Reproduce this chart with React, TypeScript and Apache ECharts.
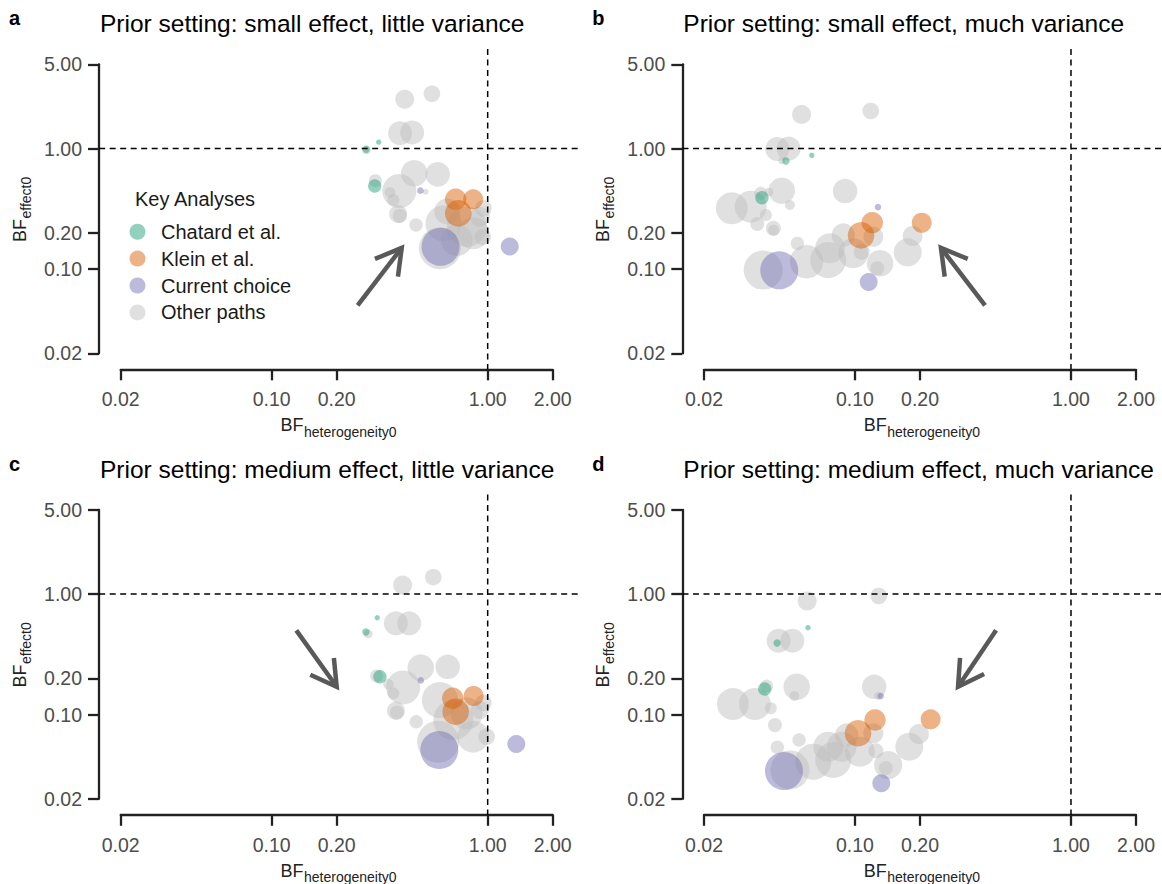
import React, { useEffect, useRef } from "react";
import * as echarts from "echarts";

// ---------------- data ----------------
const PANEL_LETTERS = ["a", "b", "c", "d"];
const PANEL_TITLES = [
  "Prior setting: small effect, little variance",
  "Prior setting: small effect, much variance",
  "Prior setting: medium effect, little variance",
  "Prior setting: medium effect, much variance",
];
const GROUP_NAMES = ["Chatard et al.", "Klein et al.", "Current choice", "Other paths"];
const X_TICKS = [0.02, 0.1, 0.2, 1, 2];
const Y_TICKS = [0.02, 0.1, 0.2, 1, 5];
const X_RANGE = [0.02, 2];
const Y_RANGE = [0.02, 5];
// plot region limits (where the reference lines end)
const PLOT_X = [0.0159, 2.62];
const PLOT_Y = [0.0147, 6.7];
const REF_VALUE = 1;

// each point: [BF heterogeneity0, BF effect0, weight]
const A_CHATARD = [[0.274, 0.986, 3.7], [0.313, 1.13, 2.7], [0.3, 0.489, 6.7]];
const A_KLEIN = [[0.711, 0.379, 10.7], [0.857, 0.379, 10], [0.731, 0.29, 13.3]];
const A_CURRENT = [[0.488, 0.447, 3.3], [0.605, 0.153, 19], [1.265, 0.154, 9]];
const A_OTHER = [
  [0.413, 2.56, 9.5], [0.552, 2.85, 8.3], [0.393, 1.34, 12], [0.447, 1.36, 12],
  [0.457, 0.623, 13.3], [0.587, 0.611, 12.3], [0.302, 0.541, 6.5], [0.274, 0.97, 4.3],
  [0.39, 0.444, 17], [0.353, 0.433, 5.3], [0.366, 0.374, 6], [0.385, 0.286, 9],
  [0.392, 0.276, 7], [0.466, 0.232, 6.7], [0.516, 0.438, 3], [0.601, 0.149, 21],
  [0.624, 0.239, 18], [0.65, 0.3, 13], [0.8, 0.224, 20], [0.857, 0.198, 16],
  [0.92, 0.272, 10], [0.955, 0.319, 8.3], [0.948, 0.185, 8.3], [0.72, 0.174, 16],
];

const B_CHATARD = [[0.0631, 0.879, 2.7], [0.0479, 0.788, 3.7], [0.0371, 0.391, 6.7]];
const B_KLEIN = [[0.1202, 0.2424, 10.7], [0.2037, 0.2424, 10], [0.1067, 0.1905, 13.3]];
const B_CURRENT = [[0.1278, 0.327, 3.3], [0.0446, 0.0976, 19], [0.1157, 0.078, 9]];
const B_OTHER = [
  [0.0566, 1.92, 9.5], [0.1183, 2.05, 8.3], [0.0437, 0.991, 12], [0.0493, 1.0, 12],
  [0.0458, 0.793, 3.5], [0.0458, 0.447, 13.3], [0.09, 0.444, 12.3], [0.0366, 0.425, 6.5],
  [0.04, 0.436, 4.3], [0.0269, 0.319, 16], [0.0329, 0.329, 16], [0.05, 0.34, 5],
  [0.0387, 0.281, 6], [0.0353, 0.2366, 7], [0.0419, 0.218, 7.5], [0.042, 0.21, 5.5],
  [0.0541, 0.1634, 6.7], [0.0376, 0.0982, 19.5], [0.0597, 0.1151, 16.7], [0.0752, 0.1189, 18],
  [0.0766, 0.149, 15], [0.0883, 0.1916, 11.7], [0.0982, 0.1352, 15], [0.1216, 0.185, 10],
  [0.1306, 0.1116, 13.3], [0.1268, 0.1014, 7], [0.1074, 0.1393, 8], [0.1754, 0.1377, 14],
  [0.1849, 0.188, 10],
];

const C_CHATARD = [[0.308, 0.636, 2.7], [0.273, 0.484, 3.7], [0.317, 0.206, 6.7]];
const C_KLEIN = [[0.689, 0.1364, 10.7], [0.861, 0.1425, 10], [0.711, 0.1055, 13.3]];
const C_CURRENT = [[0.49, 0.192, 3.3], [0.597, 0.0508, 19], [1.357, 0.0569, 9]];
const C_OTHER = [
  [0.404, 1.19, 9.5], [0.56, 1.38, 8.3], [0.376, 0.572, 12], [0.433, 0.572, 12],
  [0.49, 0.245, 13.3], [0.653, 0.249, 12.3], [0.306, 0.209, 6.5], [0.28, 0.466, 4.3],
  [0.406, 0.168, 17], [0.347, 0.179, 5.3], [0.366, 0.15, 6], [0.376, 0.1076, 9],
  [0.38, 0.104, 7], [0.467, 0.0872, 6.7], [0.59, 0.0595, 21], [0.601, 0.132, 18],
  [0.693, 0.0901, 20], [0.8, 0.102, 16], [0.857, 0.0655, 16], [0.92, 0.109, 9],
  [0.989, 0.0655, 8.3], [0.955, 0.125, 8.3],
];

const D_CHATARD = [[0.0606, 0.526, 2.7], [0.0436, 0.393, 3.7], [0.0382, 0.163, 6.7]];
const D_KLEIN = [[0.1238, 0.0901, 10.7], [0.224, 0.0913, 10], [0.1033, 0.0699, 13.3]];
const D_CURRENT = [[0.1315, 0.1425, 3.3], [0.0469, 0.034, 19], [0.1324, 0.0269, 9]];
const D_OTHER = [
  [0.0601, 0.875, 9.5], [0.1288, 0.964, 8.3], [0.0443, 0.41, 12], [0.0513, 0.41, 12],
  [0.0537, 0.17, 13.3], [0.1227, 0.17, 12.3], [0.039, 0.1725, 6.5], [0.0272, 0.1223, 16],
  [0.0344, 0.1223, 16], [0.0408, 0.1127, 6], [0.0524, 0.1425, 5], [0.0426, 0.0818, 7],
  [0.0437, 0.0535, 6.7], [0.0551, 0.0615, 6.7], [0.05, 0.0347, 19.5], [0.0641, 0.0406, 18],
  [0.0793, 0.042, 18], [0.0752, 0.0541, 15], [0.0868, 0.0541, 15], [0.0915, 0.0676, 11.7],
  [0.1054, 0.0491, 15], [0.125, 0.0501, 7.5], [0.1216, 0.0699, 10], [0.1425, 0.0381, 14],
  [0.139, 0.036, 7], [0.1784, 0.0541, 14], [0.1977, 0.0689, 10], [0.128, 0.143, 4],
];

// per panel, groups in GROUP_NAMES order
const PANEL_DATA = [
  [A_CHATARD, A_KLEIN, A_CURRENT, A_OTHER],
  [B_CHATARD, B_KLEIN, B_CURRENT, B_OTHER],
  [C_CHATARD, C_KLEIN, C_CURRENT, C_OTHER],
  [D_CHATARD, D_KLEIN, D_CURRENT, D_OTHER],
];

// arrows in data coordinates: tail -> head
const ARROW_TAILS = [[0.25, 0.05], [0.4, 0.05], [0.13, 0.5], [0.45, 0.5]];
const ARROW_HEADS = [[0.4, 0.15], [0.25, 0.15], [0.2, 0.17], [0.3, 0.17]];

// ---------------- styles / layout ----------------
const FONT = "'Liberation Sans', Arial, Helvetica, sans-serif";
const GROUP_COLORS = [
  "rgba(27,158,119,0.6)",
  "rgba(217,95,2,0.6)",
  "rgba(117,112,179,0.6)",
  "rgba(190,190,190,0.6)",
];
const DRAW_ORDER = [3, 0, 1, 2];
const COL_LEFT = [120.7, 704];
const ROW_TOP = [64.3, 509.8];
const COL_SHIFT = [0, 583.3];
const ROW_SHIFT = [0, 445.5];
const GRID_W = 432;
const GRID_H = 289;
const AXIS_COLOR = "#222";
const LABEL_COLOR = "#4d4d4d";
const BUBBLE_SCALE = 2;

const lg = Math.log10;
const PX_PER_DEC_X = GRID_W / (lg(X_RANGE[1]) - lg(X_RANGE[0]));
const PX_PER_DEC_Y = GRID_H / (lg(Y_RANGE[1]) - lg(Y_RANGE[0]));

function fmt(v: number) {
  return Number(v).toFixed(2);
}

export default function App() {
  const ref = useRef<HTMLDivElement>(null);

  useEffect(() => {
    document.body.style.margin = "0";
    const chart = echarts.init(ref.current as HTMLDivElement, null, { renderer: "svg" });

    const grids: any[] = [];
    const xAxes: any[] = [];
    const yAxes: any[] = [];
    const series: any[] = [];
    const n = PANEL_DATA.length;

    PANEL_DATA.forEach((groups, i) => {
      const col = i % 2;
      const row = Math.floor(i / 2);
      grids[i] = { left: COL_LEFT[col], top: ROW_TOP[row], width: GRID_W, height: GRID_H };
      // plot-region grid (same scale, wider extent) for the reference lines
      const rl = COL_LEFT[col] - (lg(X_RANGE[0]) - lg(PLOT_X[0])) * PX_PER_DEC_X;
      const rr = COL_LEFT[col] + GRID_W + (lg(PLOT_X[1]) - lg(X_RANGE[1])) * PX_PER_DEC_X;
      const rt = ROW_TOP[row] - (lg(PLOT_Y[1]) - lg(Y_RANGE[1])) * PX_PER_DEC_Y;
      const rb = ROW_TOP[row] + GRID_H + (lg(Y_RANGE[0]) - lg(PLOT_Y[0])) * PX_PER_DEC_Y;
      grids[n + i] = { left: rl, top: rt, width: rr - rl, height: rb - rt };

      xAxes[i] = {
        type: "log",
        logBase: 10,
        gridIndex: i,
        min: X_RANGE[0],
        max: X_RANGE[1],
        position: "bottom",
        offset: 16,
        axisLine: { show: true, onZero: false, lineStyle: { color: AXIS_COLOR, width: 2.3 } },
        axisTick: { show: true, length: 11, customValues: X_TICKS, lineStyle: { color: AXIS_COLOR, width: 2.3 } },
        axisLabel: {
          customValues: X_TICKS,
          formatter: fmt,
          margin: 20,
          fontSize: 19.5,
          fontFamily: FONT,
          color: LABEL_COLOR,
        },
        splitLine: { show: false },
      };
      yAxes[i] = {
        type: "log",
        logBase: 10,
        gridIndex: i,
        min: Y_RANGE[0],
        max: Y_RANGE[1],
        position: "left",
        offset: 21.7,
        axisLine: { show: true, onZero: false, lineStyle: { color: AXIS_COLOR, width: 2.3 } },
        axisTick: { show: true, length: 11, customValues: Y_TICKS, lineStyle: { color: AXIS_COLOR, width: 2.3 } },
        axisLabel: {
          customValues: Y_TICKS,
          formatter: fmt,
          margin: 17,
          fontSize: 19.5,
          fontFamily: FONT,
          color: LABEL_COLOR,
        },
        splitLine: { show: false },
      };
      xAxes[n + i] = { type: "log", logBase: 10, gridIndex: n + i, min: PLOT_X[0], max: PLOT_X[1], show: false };
      yAxes[n + i] = { type: "log", logBase: 10, gridIndex: n + i, min: PLOT_Y[0], max: PLOT_Y[1], show: false };

      DRAW_ORDER.forEach((g) => {
        series.push({
          type: "scatter",
          name: GROUP_NAMES[g],
          xAxisIndex: i,
          yAxisIndex: i,
          data: groups[g],
          symbol: "circle",
          symbolSize: (v: number[]) => v[2] * BUBBLE_SCALE,
          itemStyle: { color: GROUP_COLORS[g], borderWidth: 0 },
          emphasis: { disabled: true },
          clip: false,
          z: 2,
        });
      });

      const refStyle = { color: "#000", width: 1.5, type: [6, 4.5] };
      series.push({
        type: "line",
        xAxisIndex: n + i,
        yAxisIndex: n + i,
        data: [[REF_VALUE, PLOT_Y[1]], [REF_VALUE, PLOT_Y[0]]],
        symbol: "none",
        lineStyle: refStyle,
        silent: true,
        z: 4,
      });
      series.push({
        type: "line",
        xAxisIndex: n + i,
        yAxisIndex: n + i,
        data: [[PLOT_X[0], REF_VALUE], [PLOT_X[1], REF_VALUE]],
        symbol: "none",
        lineStyle: refStyle,
        silent: true,
        z: 4,
      });
    });

    chart.setOption({
      animation: false,
      backgroundColor: "#fff",
      textStyle: { fontFamily: FONT },
      grid: grids,
      xAxis: xAxes,
      yAxis: yAxes,
      series,
      legend: {
        data: GROUP_NAMES,
        orient: "vertical",
        left: 129.5,
        top: 221.7,
        padding: 0,
        itemWidth: 37,
        itemHeight: 16,
        itemGap: 6.9,
        icon: "circle",
        selectedMode: false,
        textStyle: { fontSize: 20, fontFamily: FONT, color: "#1a1a1a", lineHeight: 20 },
      },
    });

    const txt = (text: string, x: number, y: number, size: number, extra: any = {}) => ({
      type: "text",
      x,
      y,
      z: 20,
      style: {
        text,
        fontSize: size,
        fontFamily: FONT,
        fill: extra.fill || "#000",
        fontWeight: extra.fontWeight || "normal",
        align: extra.align || "left",
        textAlign: extra.align || "left",
        verticalAlign: "middle",
        textVerticalAlign: "middle",
      },
    });

    const graphics: any[] = [];
    PANEL_DATA.forEach((_, i) => {
      const dx = COL_SHIFT[i % 2];
      const dy = ROW_SHIFT[Math.floor(i / 2)];
      graphics.push(txt(PANEL_LETTERS[i], 9 + dx, 18 + dy, 20, { fontWeight: "bold" }));
      graphics.push(txt(PANEL_TITLES[i], 100 + dx, 23.5 + dy, 24.5));
      // x-axis title
      graphics.push(txt("BF", 303.5 + dx, 425 + dy, 18, { align: "right", fill: "#222" }));
      graphics.push(txt("heterogeneity0", 304 + dx, 431.5 + dy, 14, { fill: "#222" }));
      // y-axis title (rotated)
      graphics.push({
        type: "group",
        x: 19.5 + dx,
        y: 219 + dy,
        rotation: Math.PI / 2,
        children: [
          txt("BF", 0, 0, 18, { align: "right", fill: "#222" }),
          txt("effect0", 0.5, 6.5, 14, { fill: "#222" }),
        ],
      });
      // arrow
      const p0 = chart.convertToPixel({ gridIndex: i } as any, ARROW_TAILS[i]) as number[];
      const p1 = chart.convertToPixel({ gridIndex: i } as any, ARROW_HEADS[i]) as number[];
      const ang = Math.atan2(p0[1] - p1[1], p0[0] - p1[0]);
      const L = 29;
      const A = Math.PI / 6;
      const h1 = [p1[0] + L * Math.cos(ang + A), p1[1] + L * Math.sin(ang + A)];
      const h2 = [p1[0] + L * Math.cos(ang - A), p1[1] + L * Math.sin(ang - A)];
      const arrowStyle = { stroke: "#595959", lineWidth: 4.5, fill: null, lineJoin: "miter", lineCap: "butt" };
      graphics.push({ type: "polyline", z: 15, shape: { points: [p0, p1] }, style: arrowStyle });
      graphics.push({ type: "polyline", z: 15, shape: { points: [h1, p1, h2] }, style: arrowStyle });
    });
    graphics.push(txt("Key Analyses", 135, 199, 20, { fill: "#1a1a1a" }));

    chart.setOption({ graphic: graphics });

    return () => {
      chart.dispose();
    };
  }, []);

  return <div ref={ref} style={{ position: "absolute", left: 0, top: 0, width: 1162, height: 884 }} />;
}
